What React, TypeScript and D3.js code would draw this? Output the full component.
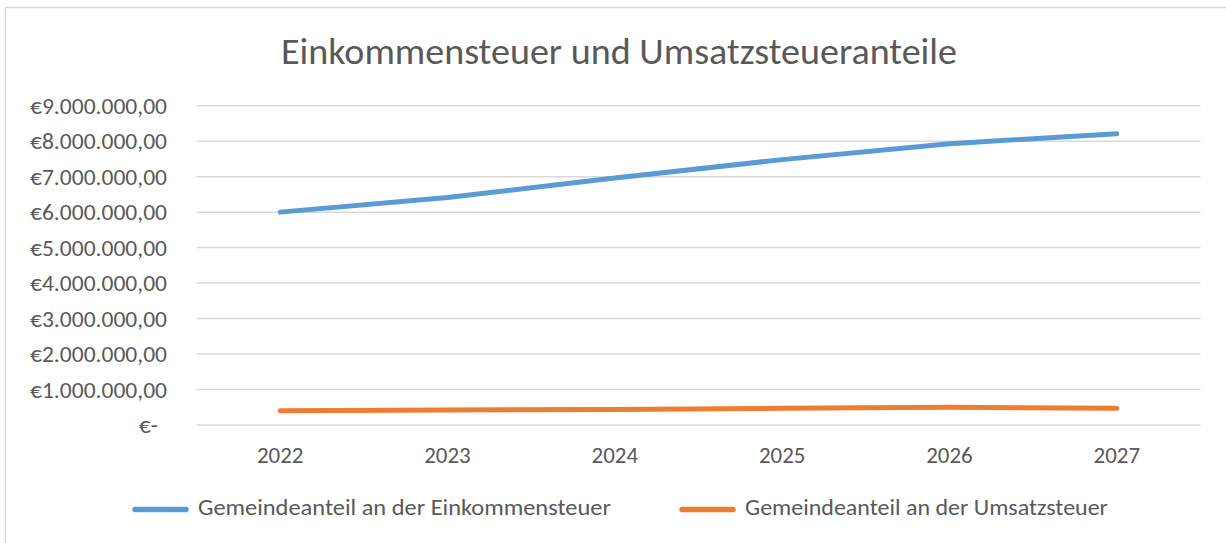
import React, { useEffect, useRef } from 'react';
import * as d3 from 'd3';

const years = ['2022', '2023', '2024', '2025', '2026', '2027'];
const einkommensteuer = [6000000, 6410000, 6960000, 7480000, 7930000, 8210000];
const umsatzsteuer = [400000, 420000, 440000, 470000, 500000, 470000];
const yTicks = [0, 1000000, 2000000, 3000000, 4000000, 5000000, 6000000, 7000000, 8000000, 9000000];

const seriesList = [
    { name: 'Gemeindeanteil an der Einkommensteuer', values: einkommensteuer, color: '#5b9bd5' },
    { name: 'Gemeindeanteil an der Umsatzsteuer', values: umsatzsteuer, color: '#ed7d31' },
];

const title = 'Einkommensteuer und Umsatzsteueranteile';

// stretch text so it covers the same width as in the original
function fitWidth(sel: d3.Selection<SVGTextElement, any, any, any>, target: (d: any, natural: number) => number) {
    sel.each(function (d) {
        const natural = this.getComputedTextLength();
        const w = target(d, natural);
        if (w > 0) d3.select(this).attr('textLength', w).attr('lengthAdjust', 'spacingAndGlyphs');
    });
}

export default function App() {
    const ref = useRef<SVGSVGElement | null>(null);

    useEffect(() => {
        document.body.style.margin = '0';
        const svg = d3.select(ref.current);
        svg.selectAll('*').remove();

        const width = 1226;
        const height = 543;
        const font = "Calibri, Carlito, 'Open Sans', sans-serif";
        const textColor = '#595959';
        const gridColor = '#d9d9d9';

        const x = d3.scalePoint<string>().domain(years).range([196.5, 1200.5]).padding(0.5);
        const y = d3.scaleLinear().domain([0, 9000000]).range([425, 105.7]);

        const de = d3.formatLocale({ decimal: ',', thousands: '.', grouping: [3], currency: ['€', ''] });
        const money = de.format('$,.2f');
        const fmt = (d: number) => (d === 0 ? '€-' : money(d));

        svg.append('rect')
            .attr('x', 5.5).attr('y', 7.5)
            .attr('width', width).attr('height', height)
            .attr('fill', 'white')
            .attr('stroke', gridColor).attr('stroke-width', 1.5);

        const titleText = svg.append('text')
            .attr('x', 619).attr('y', 63.5)
            .attr('text-anchor', 'middle')
            .attr('font-family', font).attr('font-size', 36)
            .attr('fill', textColor)
            .text(title);
        fitWidth(titleText as any, () => 676);

        // gridlines + y labels
        const yAxis = svg.append('g');
        yAxis.selectAll('line').data(yTicks).join('line')
            .attr('x1', 196.5).attr('x2', 1200.5)
            .attr('y1', d => y(d)).attr('y2', d => y(d))
            .attr('stroke', gridColor).attr('stroke-width', 1.5);
        const yLabels = yAxis.selectAll('text').data(yTicks).join('text')
            .attr('x', d => (d === 0 ? 158 : 167))
            .attr('y', d => y(d))
            .attr('dy', '0.35em')
            .attr('text-anchor', 'end')
            .attr('font-family', font).attr('font-size', 23)
            .attr('fill', textColor)
            .text(d => fmt(d));
        let k = 1;
        yLabels.filter(d => d === 9000000).each(function () {
            k = 137 / (this as SVGTextElement).getComputedTextLength();
        });
        fitWidth(yLabels as any, (_, n) => n * k);

        // x labels
        const xLabels = svg.append('g').selectAll('text').data(years).join('text')
            .attr('x', d => x(d) as number)
            .attr('y', 463)
            .attr('text-anchor', 'middle')
            .attr('font-family', font).attr('font-size', 23)
            .attr('fill', textColor)
            .text(d => d);
        fitWidth(xLabels as any, () => 46.5);

        const line = d3.line<number>()
            .x((_, i) => x(years[i]) as number)
            .y(d => y(d));

        svg.append('g').selectAll('path').data(seriesList).join('path')
            .attr('d', d => line(d.values))
            .attr('fill', 'none')
            .attr('stroke', d => d.color)
            .attr('stroke-width', 5)
            .attr('stroke-linecap', 'round')
            .attr('stroke-linejoin', 'round');

        // legend
        const legendX = [133, 680];
        const legendW = [413, 363];
        const legend = svg.append('g').selectAll('g').data(seriesList).join('g')
            .attr('transform', (_, i) => `translate(${legendX[i]},509.5)`);
        legend.append('line')
            .attr('x1', 2).attr('x2', 53)
            .attr('stroke', d => d.color).attr('stroke-width', 5.5)
            .attr('stroke-linecap', 'round');
        const legendText = legend.append('text')
            .attr('x', 65).attr('y', 5.5)
            .attr('font-family', font).attr('font-size', 23)
            .attr('fill', textColor)
            .text(d => d.name);
        fitWidth(legendText as any, d => legendW[seriesList.indexOf(d)]);
    }, []);

    return <svg ref={ref} width={1226} height={543} style={{ display: 'block' }} />;
}
